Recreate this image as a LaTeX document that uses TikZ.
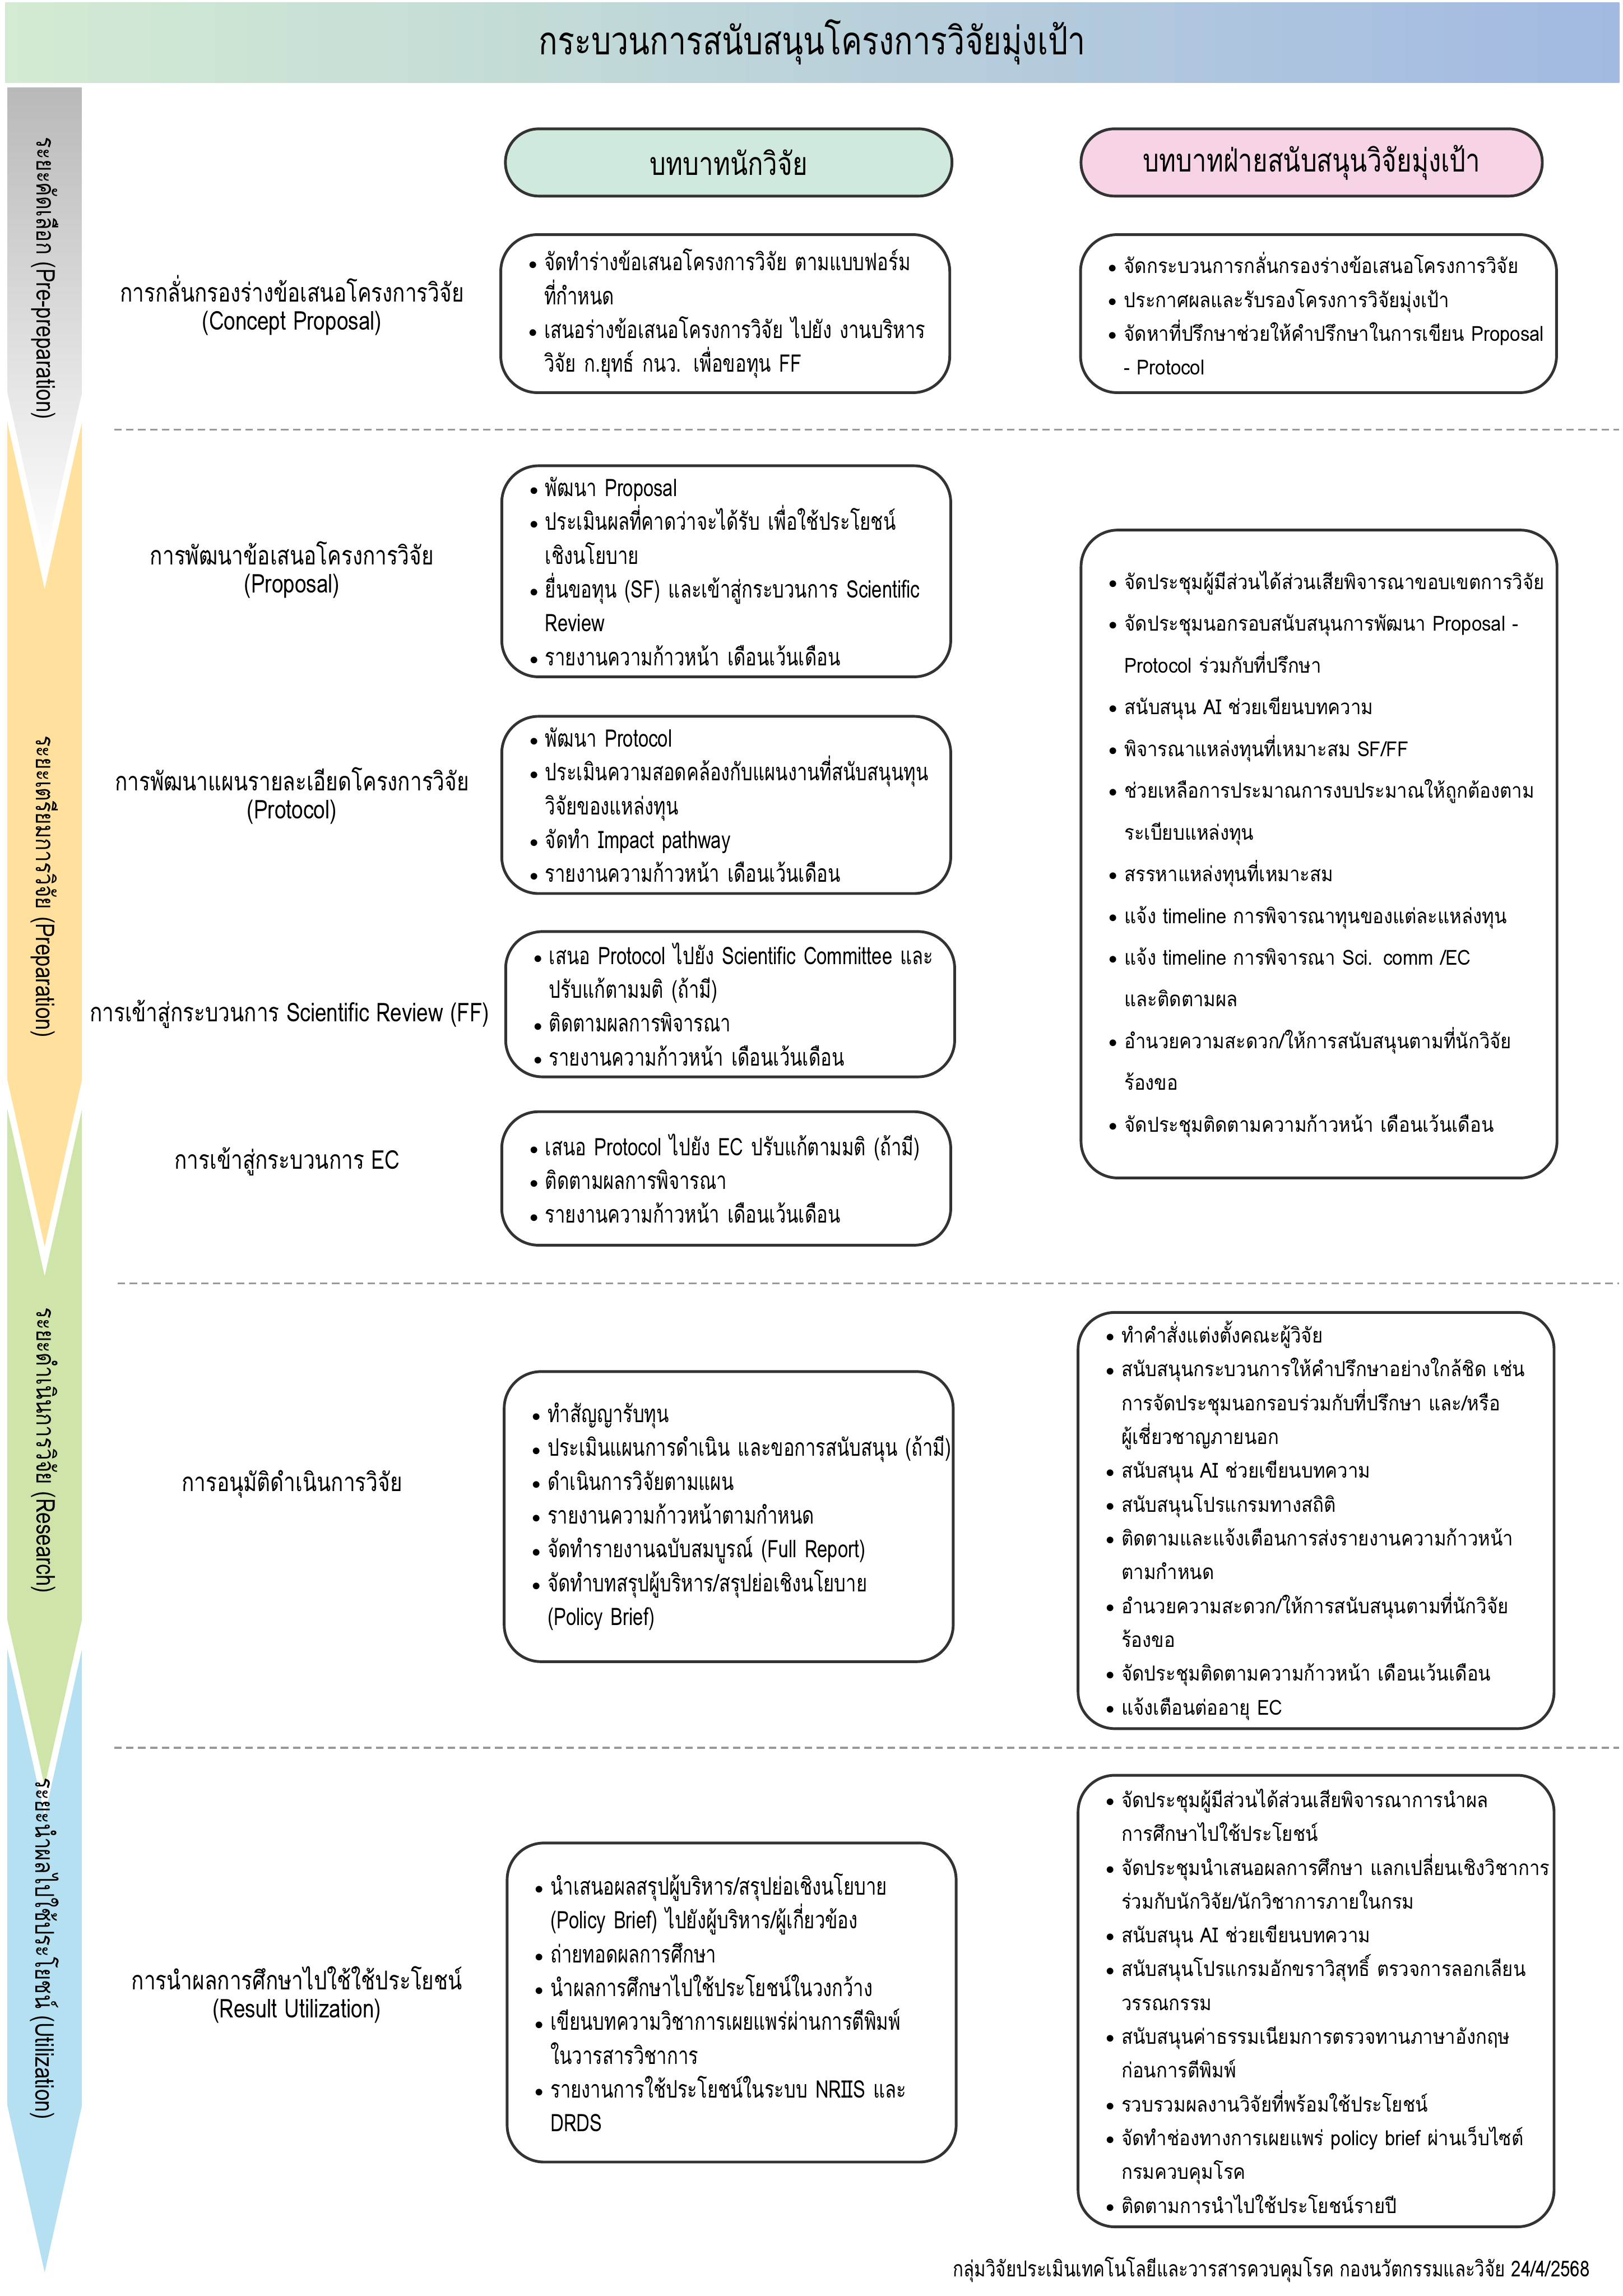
\documentclass[tikz,border=0pt]{standalone}
\usepackage{fontspec}
\newfontfamily\thaifont[Script=Thai,FakeStretch=0.89]{Loma}
\newfontfamily\narrowfont[Script=Thai,FakeStretch=0.8]{Loma}
\newfontfamily\boxfont[Script=Thai,FakeStretch=0.76]{Loma}
\usetikzlibrary{positioning}

\definecolor{linegray}{HTML}{333333}
\definecolor{titleleft}{HTML}{D3EBD2}
\definecolor{titlemid}{HTML}{B7E1EA}
\definecolor{titleright}{HTML}{A2B9E2}
\definecolor{mintfill}{HTML}{CFE9DC}
\definecolor{pinkfill}{HTML}{F6D4E6}
\definecolor{prepyellow}{HTML}{FFE09D}
\definecolor{resgreen}{HTML}{CFE4A8}
\definecolor{utilblue}{HTML}{B4E0F1}

\newcommand{\itm}[1]{\mbox{\makebox[9pt][l]{\raisebox{0.6pt}{\fontsize{10}{10}\selectfont$\bullet$}}#1}}
\newcommand{\cont}[1]{\mbox{\hspace*{9pt}#1}}
\lineskiplimit=-100pt

\begin{document}
\begin{tikzpicture}[
        boxline/.style={draw=linegray, line width=1.6pt},
        midbox/.style={boxline, rounded corners=0.75cm, text width=8.01cm, inner xsep=0.57cm, inner ysep=0pt,
            align=left, font=\boxfont\fontsize{14}{19.6}\selectfont},
        supbox/.style={boxline, rounded corners=0.75cm, text width=8.56cm, inner xsep=0.57cm, inner ysep=0pt,
            align=left, font=\thaifont\fontsize{12}{19.6}\selectfont},
        pill/.style={boxline, rounded corners=0.68cm, minimum height=1.37cm, font=\narrowfont\fontsize{18.5}{22}\selectfont},
        steplabel/.style={align=center, font=\narrowfont\fontsize{15}{16.2}\selectfont},
        stagelabel/.style={rotate=-90, font=\narrowfont\fontsize{15}{18}\selectfont},
        divider/.style={draw=gray!80, line width=1pt, dash pattern=on 4.3pt off 2.6pt}
    ]
    \useasboundingbox (0,0) rectangle (33.07,-46.78);

    % stages on the left
    \shade[top color=gray!55, bottom color=white] (0.15,-1.78) -- (1.67,-1.78) -- (1.67,-8.0) -- (0.91,-11.4) -- (0.15,-8.0) -- cycle;
    \fill[prepyellow] (0.15,-8.6) -- (0.91,-12.0) -- (1.67,-8.6) -- (1.67,-22.0) -- (0.91,-25.4) -- (0.15,-22.0) -- cycle;
    \fill[resgreen] (0.15,-22.6) -- (0.91,-26.0) -- (1.67,-22.6) -- (1.67,-33.0) -- (0.91,-36.4) -- (0.15,-33.0) -- cycle;
    \fill[utilblue] (0.15,-33.6) -- (0.91,-37.0) -- (1.67,-33.6) -- (1.67,-42.9) -- (0.91,-46.3) -- (0.15,-42.9) -- cycle;

    \node[stagelabel] (stpre) at (0.91,-5.67) {ระยะคัดเลือก (Pre-preparation)};
    \node[stagelabel] (stprep) at (0.91,-18.06) {ระยะเตรียมการวิจัย (Preparation)};
    \node[stagelabel] (stres) at (0.91,-29.55) {ระยะดำเนินการวิจัย (Research)};
    \node[stagelabel] (stutil) at (0.91,-39.7) {ระยะนำผลไปใช้ประโยชน์ (Utilization)};

    % title and column heads
    \node[minimum width=32.9cm, minimum height=1.63cm, left color=titleleft, middle color=titlemid, right color=titleright,
        font=\narrowfont\fontsize{22.6}{26}\selectfont] (title) at (16.55,-0.865) {กระบวนการสนับสนุนโครงการวิจัยมุ่งเป้า};
    \node[pill, fill=mintfill, minimum width=9.1cm] (researcher) at (14.85,-3.31) {บทบาทนักวิจัย};
    \node[pill, fill=pinkfill, minimum width=9.4cm] (support) at (26.73,-3.31) {บทบาทฝ่ายสนับสนุนวิจัยมุ่งเป้า};

    % pre-preparation
    \node[steplabel] (lconcept) at (5.95,-6.22) {การกลั่นกรองร่างข้อเสนอโครงการวิจัย\\(Concept Proposal)};
    \node[midbox, minimum height=3.22cm] (mconcept) at (14.78,-6.39) {%
        \itm{จัดทำร่างข้อเสนอโครงการวิจัย ตามแบบฟอร์ม}\\
        \cont{ที่กำหนด}\\
        \itm{เสนอร่างข้อเสนอโครงการวิจัย ไปยัง งานบริหาร}\\
        \cont{วิจัย ก.ยุทธ์ กนว. เพื่อขอทุน FF}};
    \node[supbox, minimum height=3.22cm] (sconcept) at (26.87,-6.39) {%
        \itm{จัดกระบวนการกลั่นกรองร่างข้อเสนอโครงการวิจัย}\\
        \itm{ประกาศผลและรับรองโครงการวิจัยมุ่งเป้า}\\
        \itm{จัดหาที่ปรึกษาช่วยให้คำปรึกษาในการเขียน Proposal}\\
        \cont{- Protocol}};

    \draw[divider] (2.33,-8.75) -- (33.0,-8.75);

    % preparation
    \node[steplabel] (lproposal) at (5.95,-11.61) {การพัฒนาข้อเสนอโครงการวิจัย\\(Proposal)};
    \node[midbox, minimum height=4.3cm] (mproposal) at (14.8,-11.64) {%
        \itm{พัฒนา Proposal}\\
        \itm{ประเมินผลที่คาดว่าจะได้รับ เพื่อใช้ประโยชน์}\\
        \cont{เชิงนโยบาย}\\
        \itm{ยื่นขอทุน (SF) และเข้าสู่กระบวนการ Scientific}\\
        \cont{Review}\\
        \itm{รายงานความก้าวหน้า เดือนเว้นเดือน}};

    \node[steplabel] (lprotocol) at (5.95,-16.21) {การพัฒนาแผนรายละเอียดโครงการวิจัย\\(Protocol)};
    \node[midbox, minimum height=3.61cm] (mprotocol) at (14.8,-16.4) {%
        \itm{พัฒนา Protocol}\\
        \itm{ประเมินความสอดคล้องกับแผนงานที่สนับสนุนทุน}\\
        \cont{วิจัยของแหล่งทุน}\\
        \itm{จัดทำ Impact pathway}\\
        \itm{รายงานความก้าวหน้า เดือนเว้นเดือน}};

    \node[steplabel] (lscireview) at (5.9,-20.66) {การเข้าสู่กระบวนการ Scientific Review (FF)};
    \node[midbox, minimum height=2.96cm] (mscireview) at (14.88,-20.46) {%
        \itm{เสนอ Protocol ไปยัง Scientific Committee และ}\\
        \cont{ปรับแก้ตามมติ (ถ้ามี)}\\
        \itm{ติดตามผลการพิจารณา}\\
        \itm{รายงานความก้าวหน้า เดือนเว้นเดือน}};

    \node[steplabel] (lethics) at (5.85,-23.67) {การเข้าสู่กระบวนการ EC};
    \node[midbox, minimum height=2.72cm] (methics) at (14.8,-24.01) {%
        \itm{เสนอ Protocol ไปยัง EC ปรับแก้ตามมติ (ถ้ามี)}\\
        \itm{ติดตามผลการพิจารณา}\\
        \itm{รายงานความก้าวหน้า เดือนเว้นเดือน}};

    \node[supbox, minimum height=13.2cm, font=\thaifont\fontsize{12}{24.2}\selectfont] (sprep) at (26.88,-17.4) {%
        \itm{จัดประชุมผู้มีส่วนได้ส่วนเสียพิจารณาขอบเขตการวิจัย}\\
        \itm{จัดประชุมนอกรอบสนับสนุนการพัฒนา Proposal -}\\
        \cont{Protocol ร่วมกับที่ปรึกษา}\\
        \itm{สนับสนุน AI ช่วยเขียนบทความ}\\
        \itm{พิจารณาแหล่งทุนที่เหมาะสม SF/FF}\\
        \itm{ช่วยเหลือการประมาณการงบประมาณให้ถูกต้องตาม}\\
        \cont{ระเบียบแหล่งทุน}\\
        \itm{สรรหาแหล่งทุนที่เหมาะสม}\\
        \itm{แจ้ง timeline การพิจารณาทุนของแต่ละแหล่งทุน}\\
        \itm{แจ้ง timeline การพิจารณา Sci. comm /EC}\\
        \cont{และติดตามผล}\\
        \itm{อำนวยความสะดวก/ให้การสนับสนุนตามที่นักวิจัย}\\
        \cont{ร้องขอ}\\
        \itm{จัดประชุมติดตามความก้าวหน้า เดือนเว้นเดือน}};

    \draw[divider] (2.40,-26.15) -- (33.0,-26.15);

    % research
    \node[steplabel] (lapprove) at (5.95,-30.24) {การอนุมัติดำเนินการวิจัย};
    \node[midbox, minimum height=5.91cm] (mapprove) at (14.85,-30.9) {%
        \itm{ทำสัญญารับทุน}\\
        \itm{ประเมินแผนการดำเนิน และขอการสนับสนุน (ถ้ามี)}\\
        \itm{ดำเนินการวิจัยตามแผน}\\
        \itm{รายงานความก้าวหน้าตามกำหนด}\\
        \itm{จัดทำรายงานฉบับสมบูรณ์ (Full Report)}\\
        \itm{จัดทำบทสรุปผู้บริหาร/สรุปย่อเชิงนโยบาย}\\
        \cont{(Policy Brief)}};
    \node[supbox, minimum height=8.48cm] (sresearch) at (26.82,-30.98) {%
        \itm{ทำคำสั่งแต่งตั้งคณะผู้วิจัย}\\
        \itm{สนับสนุนกระบวนการให้คำปรึกษาอย่างใกล้ชิด เช่น}\\
        \cont{การจัดประชุมนอกรอบร่วมกับที่ปรึกษา และ/หรือ}\\
        \cont{ผู้เชี่ยวชาญภายนอก}\\
        \itm{สนับสนุน AI ช่วยเขียนบทความ}\\
        \itm{สนับสนุนโปรแกรมทางสถิติ}\\
        \itm{ติดตามและแจ้งเตือนการส่งรายงานความก้าวหน้า}\\
        \cont{ตามกำหนด}\\
        \itm{อำนวยความสะดวก/ให้การสนับสนุนตามที่นักวิจัย}\\
        \cont{ร้องขอ}\\
        \itm{จัดประชุมติดตามความก้าวหน้า เดือนเว้นเดือน}\\
        \itm{แจ้งเตือนต่ออายุ EC}};

    \draw[divider] (2.33,-35.61) -- (33.0,-35.61);

    % utilization
    \node[steplabel] (lutil) at (6.05,-40.64) {การนำผลการศึกษาไปใช้ใช้ประโยชน์\\(Result Utilization)};
    \node[midbox, minimum height=6.5cm] (mutil) at (14.91,-40.8) {%
        \itm{นำเสนอผลสรุปผู้บริหาร/สรุปย่อเชิงนโยบาย}\\
        \cont{(Policy Brief) ไปยังผู้บริหาร/ผู้เกี่ยวข้อง}\\
        \itm{ถ่ายทอดผลการศึกษา}\\
        \itm{นำผลการศึกษาไปใช้ประโยชน์ในวงกว้าง}\\
        \itm{เขียนบทความวิชาการเผยแพร่ผ่านการตีพิมพ์}\\
        \cont{ในวารสารวิชาการ}\\
        \itm{รายงานการใช้ประโยชน์ในระบบ NRIIS และ}\\
        \cont{DRDS}};
    \node[supbox, minimum height=9.2cm] (sutil) at (26.82,-40.77) {%
        \itm{จัดประชุมผู้มีส่วนได้ส่วนเสียพิจารณาการนำผล}\\
        \cont{การศึกษาไปใช้ประโยชน์}\\
        \itm{จัดประชุมนำเสนอผลการศึกษา แลกเปลี่ยนเชิงวิชาการ}\\
        \cont{ร่วมกับนักวิจัย/นักวิชาการภายในกรม}\\
        \itm{สนับสนุน AI ช่วยเขียนบทความ}\\
        \itm{สนับสนุนโปรแกรมอักขราวิสุทธิ์ ตรวจการลอกเลียน}\\
        \cont{วรรณกรรม}\\
        \itm{สนับสนุนค่าธรรมเนียมการตรวจทานภาษาอังกฤษ}\\
        \cont{ก่อนการตีพิมพ์}\\
        \itm{รวบรวมผลงานวิจัยที่พร้อมใช้ประโยชน์}\\
        \itm{จัดทำช่องทางการเผยแพร่ policy brief ผ่านเว็บไซต์}\\
        \cont{กรมควบคุมโรค}\\
        \itm{ติดตามการนำไปใช้ประโยชน์รายปี}};

    \node[anchor=east, font=\narrowfont\fontsize{12.7}{15}\selectfont] (footer) at (32.52,-46.24)
        {กลุ่มวิจัยประเมินเทคโนโลยีและวารสารควบคุมโรค กองนวัตกรรมและวิจัย 24/4/2568};
\end{tikzpicture}
\end{document}
